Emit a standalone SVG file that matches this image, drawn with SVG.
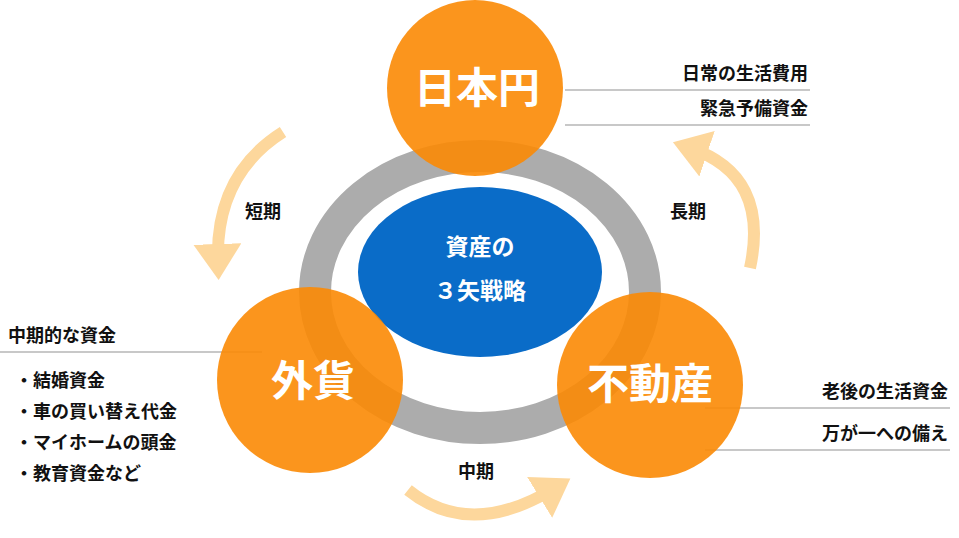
<svg xmlns="http://www.w3.org/2000/svg" width="959" height="538" viewBox="0 0 959 538">
<style>
.c{fill:#fb8a04;fill-opacity:0.9}
.big{font-family:"Noto Sans CJK JP",sans-serif;font-weight:bold;fill:#fff;font-size:42px;text-anchor:middle}
.lbl{font-family:"Noto Sans CJK JP",sans-serif;font-weight:bold;fill:#111;font-size:18px}
.ln{stroke:#c8c8c8;stroke-width:2;fill:none}
.arr{fill:none;stroke:#fdd79c;stroke-width:12}
</style>
<defs><marker id="ah" markerWidth="4" markerHeight="4" refX="1.5" refY="2" orient="auto" markerUnits="strokeWidth"><path d="M0,0L3,2L0,4Z" fill="#fdd79c"/></marker></defs>
<rect width="959" height="538" fill="#fff"/>
<g id="ring"><ellipse cx="480" cy="292" rx="165" ry="136" fill="none" stroke="#acacac" stroke-width="32"/></g>
<g id="center"><ellipse cx="480" cy="272" rx="122" ry="85" fill="#0a6cc8"/>
<text x="480" y="255" font-family="Noto Sans CJK JP,sans-serif" font-size="23" font-weight="bold" fill="#fff" text-anchor="middle">資産の</text>
<text x="480" y="299" font-family="Noto Sans CJK JP,sans-serif" font-size="23" font-weight="bold" fill="#fff" text-anchor="middle">３矢戦略</text></g>
<g id="connectors">
<path class="arr" d="M283,132 Q215,175 218,262" marker-end="url(#ah)"/>
<path class="arr" d="M750,268 Q770,175 690,148" marker-end="url(#ah)"/>
<path class="arr" d="M408,490 Q470,540 555,488" marker-end="url(#ah)"/>
<path class="ln" d="M565,90H810M565,125H810M0,352H262M705,408H950M705,450H950"/>
</g>
<g id="yen"><circle class="c" cx="475" cy="88" r="88"/><text class="big" x="477" y="103">日本円</text></g>
<g id="fx"><circle class="c" cx="310" cy="380" r="93"/><text class="big" x="313" y="396">外貨</text></g>
<g id="re"><circle class="c" cx="650" cy="385" r="93"/><text class="big" x="650" y="399">不動産</text></g>
<g id="labels">
<text class="lbl" x="245" y="218">短期</text>
<text class="lbl" x="670" y="218">長期</text>
<text class="lbl" x="458" y="478">中期</text>
<text class="lbl" x="808" y="80" text-anchor="end">日常の生活費用</text>
<text class="lbl" x="808" y="115" text-anchor="end">緊急予備資金</text>
<text class="lbl" x="8" y="342">中期的な資金</text>
<text class="lbl" x="15" y="387">・結婚資金</text>
<text class="lbl" x="15" y="418">・車の買い替え代金</text>
<text class="lbl" x="15" y="449">・マイホームの頭金</text>
<text class="lbl" x="15" y="480">・教育資金など</text>
<text class="lbl" x="948" y="398" text-anchor="end">老後の生活資金</text>
<text class="lbl" x="948" y="440" text-anchor="end">万が一への備え</text>
</g>
</svg>
